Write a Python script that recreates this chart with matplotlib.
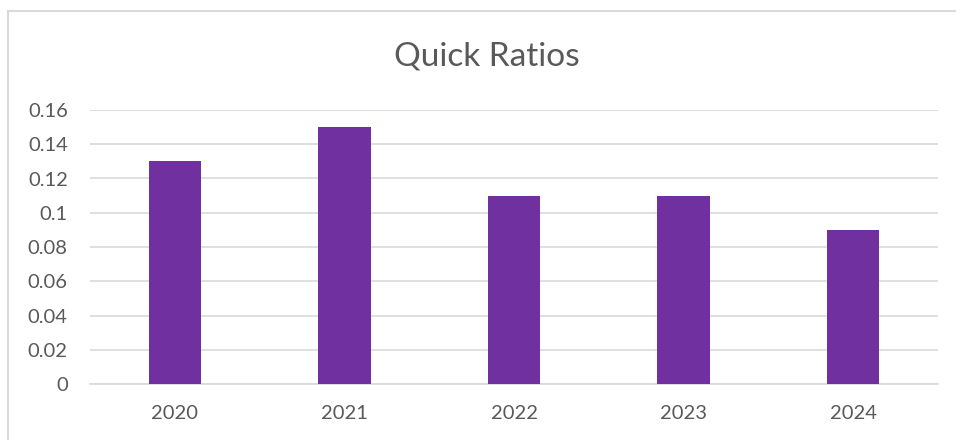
import matplotlib
matplotlib.use("Agg")
import numpy as np
from matplotlib import pyplot as plt
from matplotlib.patches import Rectangle

years = ["2020", "2021", "2022", "2023", "2024"]
quick_ratios = [0.13, 0.15, 0.11, 0.11, 0.09]
y_ticks = [0, 0.02, 0.04, 0.06, 0.08, 0.1, 0.12, 0.14, 0.16]
y_tick_labels = ["0", "0.02", "0.04", "0.06", "0.08", "0.1", "0.12", "0.14", "0.16"]

bar_color = "#7030A0"
text_color = "#595959"
grid_color = "#D9D9D9"

plt.rcParams["font.family"] = ["Lato", "DejaVu Sans"]

fig = plt.figure(figsize=(9.56, 4.4), dpi=100)
ax = fig.add_axes([90 / 956, 56 / 440, 848 / 956, 274 / 440])

x = np.arange(len(years))
ax.bar(x, quick_ratios, width=0.31, color=bar_color, zorder=3)

ax.set_xlim(-0.5, len(years) - 0.5)
ax.set_ylim(0, 0.16)
ax.set_yticks(y_ticks)
ax.set_yticklabels(y_tick_labels)
ax.set_xticks(x)
ax.set_xticklabels(years)
ax.tick_params(axis="both", length=0, labelsize=14.5, labelcolor=text_color)
ax.tick_params(axis="y", pad=16)
ax.tick_params(axis="x", pad=15)

ax.yaxis.grid(True, color=grid_color, linewidth=1.2, zorder=0)
for side in ["top", "right", "left"]:
    ax.spines[side].set_visible(False)
ax.spines["bottom"].set_color(grid_color)
ax.spines["bottom"].set_linewidth(1.2)

fig.text(487 / 956, 1 - 57 / 440, "Quick Ratios", ha="center", va="center",
         fontsize=24, color=text_color)

# outer chart border
fig.patches.append(Rectangle((8 / 956, -0.01), 1.1, 1 - 11 / 440 + 0.01,
                             transform=fig.transFigure, fill=False,
                             edgecolor=grid_color, linewidth=1.5))

fig.savefig("out.png", dpi=100)
